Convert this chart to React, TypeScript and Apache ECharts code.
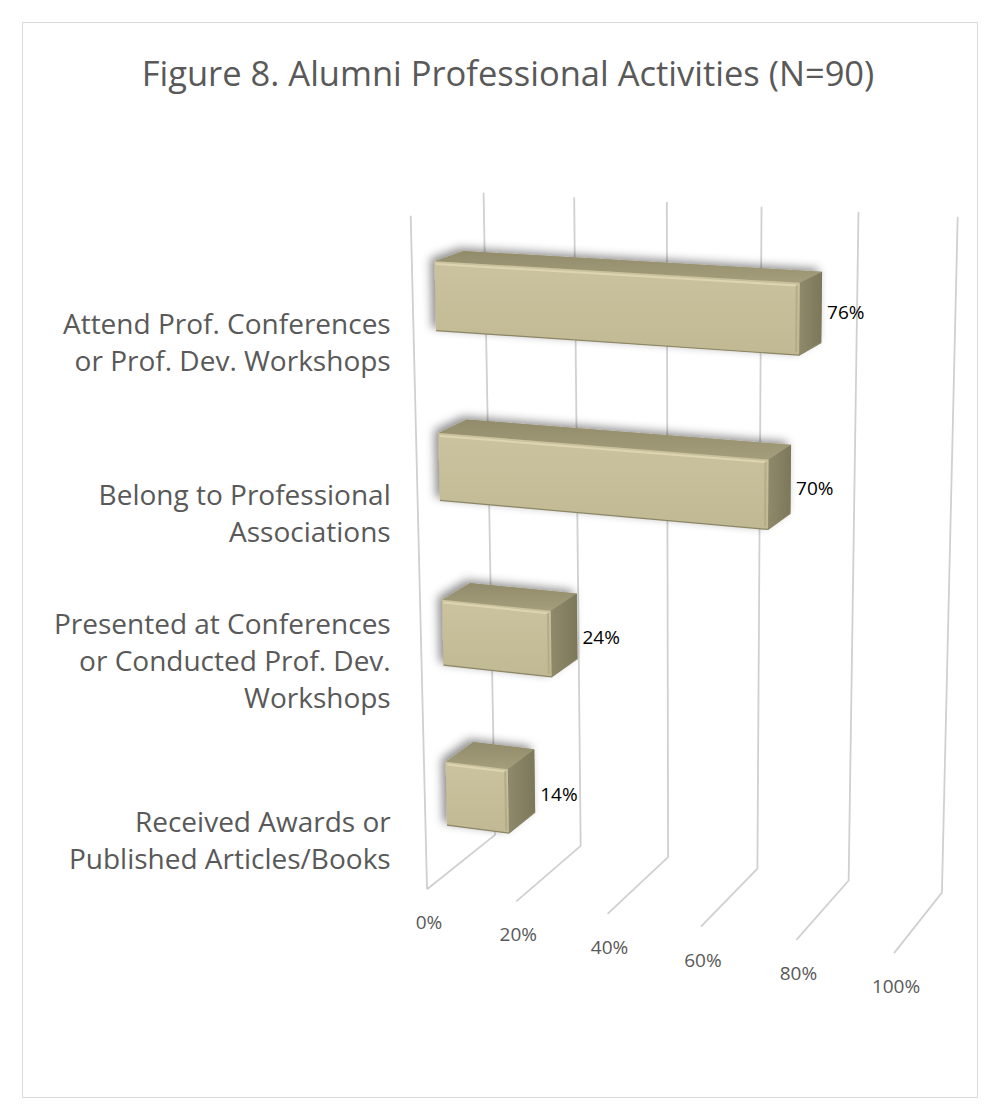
import React, { useEffect, useRef } from 'react';
import * as echarts from 'echarts';

// ---------- data ----------
const TITLE = 'Figure 8. Alumni Professional Activities (N=90)';
const categories = [
  'Attend Prof. Conferences\nor Prof. Dev. Workshops',
  'Belong to Professional\nAssociations',
  'Presented at Conferences\nor Conducted Prof. Dev.\nWorkshops',
  'Received Awards or\nPublished Articles/Books',
];
const values = [76, 70, 24, 14];
const tickValues = [0, 20, 40, 60, 80, 100];
const tickLabels = ['0%', '20%', '40%', '60%', '80%', '100%'];

// ---------- 3D perspective (layout) ----------
// world: X = value share 0..1, Y = height 0 (floor)..1 (top), Z = depth 0 (front)..1 (back)
type P3 = [number, number, number];
const REF_POINTS: [P3, [number, number]][] = [
  [[0, 0, 1], [495, 833]], [[0.2, 0, 1], [582, 847]], [[0.4, 0, 1], [668, 858]],
  [[0.6, 0, 1], [757, 869]], [[0.8, 0, 1], [848, 880]], [[1, 0, 1], [942, 893]],
  [[0, 1, 1], [483, 193]], [[0.2, 1, 1], [574, 197]], [[0.4, 1, 1], [667, 202]],
  [[0.6, 1, 1], [762, 207]], [[0.8, 1, 1], [859, 212]], [[1, 1, 1], [957, 216]],
  [[0, 0, 0], [426, 889]], [[0.2, 0, 0], [517, 902]], [[0.4, 0, 0], [607, 914]],
  [[0.6, 0, 0], [701, 927]], [[0.8, 0, 0], [797, 939]], [[1, 0, 0], [894, 953]],
  [[0, 1, 0], [411, 216]],
];

function fitCamera() {
  const rows: number[][] = [];
  const rhs: number[] = [];
  for (const [[X, Y, Z], [u0, v0]] of REF_POINTS) {
    const u = u0 / 1000, v = v0 / 1000;
    rows.push([X, Y, Z, 1, 0, 0, 0, 0, -u * X, -u * Y, -u * Z]); rhs.push(u);
    rows.push([0, 0, 0, 0, X, Y, Z, 1, -v * X, -v * Y, -v * Z]); rhs.push(v);
  }
  const n = 11;
  const M = Array.from({ length: n }, () => new Array(n + 1).fill(0));
  for (let r = 0; r < rows.length; r++) {
    for (let i = 0; i < n; i++) {
      for (let j = 0; j < n; j++) M[i][j] += rows[r][i] * rows[r][j];
      M[i][n] += rows[r][i] * rhs[r];
    }
  }
  for (let c = 0; c < n; c++) {
    let p = c;
    for (let r = c + 1; r < n; r++) if (Math.abs(M[r][c]) > Math.abs(M[p][c])) p = r;
    const tmp = M[c]; M[c] = M[p]; M[p] = tmp;
    for (let r = 0; r < n; r++) {
      if (r === c) continue;
      const f = M[r][c] / M[c][c];
      for (let k = c; k <= n; k++) M[r][k] -= f * M[c][k];
    }
  }
  const p = M.map((row, i) => row[n] / row[i]);
  return (X: number, Y: number, Z: number): [number, number] => {
    const w = p[8] * X + p[9] * Y + p[10] * Z + 1;
    return [
      ((p[0] * X + p[1] * Y + p[2] * Z + p[3]) / w) * 1000,
      ((p[4] * X + p[5] * Y + p[6] * Z + p[7]) / w) * 1000,
    ];
  };
}
const proj = fitCamera();

const FONT = 'Open Sans';
const GRAY_TEXT = '#595959';
const Z_FRONT = 0.3;
const Z_BACK = 0.7;
const BAR_FRACTION = 0.4;

function gridRenderItem(params: any, api: any) {
  const cs = params.coordSys;
  const idx = params.dataIndex;
  const px = api.coord([api.value(0), 0])[0];
  const X = (px - cs.x) / cs.width;
  const children: any[] = [];
  const lineStyle = { stroke: '#D0D0D0', lineWidth: 1.8, fill: null };
  children.push({
    type: 'polyline',
    shape: { points: [proj(X, 1, 1), proj(X, 0, 1), proj(X, 0, 0)] },
    style: lineStyle,
  });
  if (idx === 0) {
    children.push({
      type: 'polyline',
      shape: { points: [proj(X, 0, 0), proj(X, 1, 0)] },
      style: lineStyle,
    });
  }
  const f = proj(X, 0, 0);
  children.push({
    type: 'text',
    x: f[0] + 2,
    y: f[1] + 33,
    style: {
      text: tickLabels[idx],
      fill: GRAY_TEXT,
      fontSize: 19,
      fontFamily: FONT,
      align: 'center',
      verticalAlign: 'middle',
    },
  });
  return { type: 'group', children };
}

function barRenderItem(params: any, api: any) {
  const cs = params.coordSys;
  const v = api.value(0);
  const idx = api.value(1);
  const c0 = api.coord([0, idx]);
  const c1 = api.coord([v, idx]);
  const band = api.size([0, 1])[1];
  const X0 = (c0[0] - cs.x) / cs.width;
  const X1 = (c1[0] - cs.x) / cs.width;
  const Yc = 1 - (c0[1] - cs.y) / cs.height;
  const hh = (band * BAR_FRACTION) / 2 / cs.height;
  const Yb = Yc - hh;
  const Yt = Yc + hh;
  const zf = Z_FRONT, zb = Z_BACK;

  const fLB = proj(X0, Yb, zf), fRB = proj(X1, Yb, zf), fRT = proj(X1, Yt, zf), fLT = proj(X0, Yt, zf);
  const bRB = proj(X1, Yb, zb), bRT = proj(X1, Yt, zb), bLT = proj(X0, Yt, zb);

  const children: any[] = [];
  // silhouette with soft shadow
  children.push({
    type: 'polygon',
    shape: { points: [fLB, fRB, bRB, bRT, bLT, fLT] },
    style: {
      fill: '#A9A27F',
      shadowBlur: 10,
      shadowOffsetX: -4,
      shadowOffsetY: -3,
      shadowColor: 'rgba(0,0,0,0.45)',
    },
  });
  // top face
  children.push({
    type: 'polygon',
    shape: { points: [fLT, fRT, bRT, bLT] },
    style: {
      fill: new echarts.graphic.LinearGradient(0, 1, 0, 0, [
        { offset: 0, color: '#A49E7C' },
        { offset: 1, color: '#928B6B' },
      ]),
    },
  });
  // side (end) face
  children.push({
    type: 'polygon',
    shape: { points: [fRB, bRB, bRT, fRT] },
    style: {
      fill: new echarts.graphic.LinearGradient(0, 0, 1, 0, [
        { offset: 0, color: '#8F8A6B' },
        { offset: 1, color: '#7B7759' },
      ]),
    },
  });
  // front face
  children.push({
    type: 'polygon',
    shape: { points: [fLB, fRB, fRT, fLT] },
    style: {
      fill: new echarts.graphic.LinearGradient(0, 0, 0, 1, [
        { offset: 0, color: '#CBC39F' },
        { offset: 1, color: '#C1B993' },
      ]),
    },
  });
  // bevel highlights
  const dy = 0.004;
  children.push({
    type: 'polyline',
    shape: { points: [proj(X0 + 0.003, Yt - dy, zf), proj(X1 - 0.006, Yt - dy, zf)] },
    style: { stroke: '#DCD5B0', lineWidth: 2, fill: null },
  });
  children.push({
    type: 'polyline',
    shape: { points: [proj(X1 - 0.006, Yt - dy, zf), proj(X1 - 0.006, Yb + dy, zf)] },
    style: { stroke: '#B3AC88', lineWidth: 2, fill: null },
  });
  children.push({
    type: 'polyline',
    shape: { points: [fLB, fRB, bRB] },
    style: { stroke: '#8C8666', lineWidth: 1.2, fill: null },
  });

  // value label
  const lblX = Math.max(bRT[0], bRB[0]) + 5;
  const lblY = proj(X1, Yc, zf)[1] - 7;
  children.push({
    type: 'text',
    x: lblX,
    y: lblY,
    style: {
      text: v + '%',
      fill: '#000000',
      fontSize: 19,
      fontFamily: FONT,
      align: 'left',
      verticalAlign: 'middle',
    },
  });

  // category label
  const topFront = proj(0, 1, 0);
  const lowY = proj(0, Yc - band / 2 / cs.height, 0)[1];
  children.push({
    type: 'text',
    x: topFront[0] - 20,
    y: lowY - 13,
    style: {
      text: categories[idx],
      fill: GRAY_TEXT,
      fontSize: 28,
      lineHeight: 37,
      fontFamily: FONT,
      align: 'right',
      verticalAlign: 'bottom',
    },
  });
  return { type: 'group', children };
}

export default function App() {
  const ref = useRef<HTMLDivElement>(null);
  useEffect(() => {
    const chart = echarts.init(ref.current!, null, { renderer: 'svg' });
    chart.setOption({
      animation: false,
      backgroundColor: '#ffffff',
      grid: { left: 0, top: 0, width: 900, height: 900, show: false },
      xAxis: { type: 'value', min: 0, max: 100, interval: 20, show: false },
      yAxis: { type: 'category', data: categories, inverse: true, show: false },
      graphic: [
        {
          type: 'rect',
          shape: { x: 22.5, y: 22.5, width: 955, height: 1075 },
          style: { fill: 'none', stroke: '#D9D9D9', lineWidth: 1 },
          silent: true,
        },
        {
          type: 'text',
          x: 508,
          y: 72,
          style: {
            text: TITLE,
            fill: GRAY_TEXT,
            fontSize: 34.5,
            fontFamily: FONT,
            align: 'center',
            verticalAlign: 'middle',
          },
        },
      ],
      series: [
        {
          type: 'custom',
          coordinateSystem: 'cartesian2d',
          data: tickValues.map((t) => [t, 0]),
          renderItem: gridRenderItem,
          z: 1,
          silent: true,
        },
        {
          type: 'custom',
          coordinateSystem: 'cartesian2d',
          data: values.map((v, i) => [v, i]),
          renderItem: barRenderItem,
          z: 2,
          silent: true,
        },
      ],
    });
    return () => chart.dispose();
  }, []);
  return (
    <div
      ref={ref}
      style={{ position: 'absolute', left: 0, top: 0, width: 999, height: 1120, background: '#fff' }}
    />
  );
}
